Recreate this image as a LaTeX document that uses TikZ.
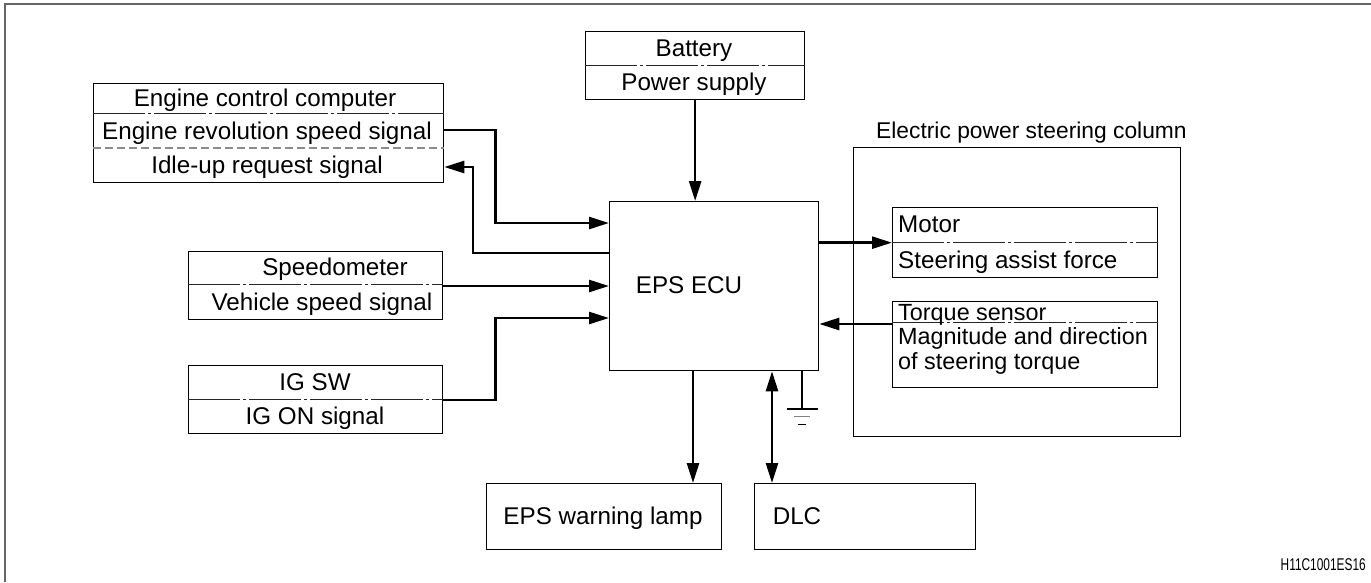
\documentclass[tikz,border=0pt]{standalone}
\usepackage{fontspec}
\setmainfont{Liberation Sans}
\usetikzlibrary{arrows.meta,calc}
\begin{document}
\begin{tikzpicture}[x=1pt,y=-1pt,
  every node/.style={font=\fontsize{24.2}{27}\selectfont, inner sep=0pt},
  blk/.style={draw, line width=1.3pt, inner sep=0pt, anchor=north west, rectangle},
  divline/.style={line width=1pt, draw=black!85, dash pattern=on 52pt off 3pt on 3pt off 3pt},
  dashline/.style={line width=1.2pt, draw=black!45, dash pattern=on 8pt off 4pt},
  sig/.style={line width=2.6pt, -{Triangle[length=20pt,width=12pt]}},
  bisig/.style={line width=2.6pt, {Triangle[length=20pt,width=12pt]}-{Triangle[length=20pt,width=12pt]}},
  lbl/.style={anchor=base},
  lbll/.style={anchor=base west},
  tqfont/.style={font=\fontsize{23.4}{26}\selectfont}]
\useasboundingbox (0,0) rectangle (1371,582);
% frame
\draw[black!60, line width=2pt] (1371,4) -- (5,4) -- (5,582);

% boxes
\node[blk, minimum width=219pt, minimum height=68pt] (bat) at (585,31) {};
\node[blk, minimum width=350pt, minimum height=99pt] (eng) at (93,83) {};
\node[blk, minimum width=254pt, minimum height=68pt] (spd) at (188,251) {};
\node[blk, minimum width=254pt, minimum height=68pt] (igsw) at (188,365) {};
\node[blk, minimum width=209pt, minimum height=169pt] (ecu) at (609,201) {};
\node[blk, minimum width=327pt, minimum height=289pt] (col) at (853,147) {};
\node[blk, minimum width=265pt, minimum height=70pt] (mot) at (892,207) {};
\node[blk, minimum width=265pt, minimum height=86pt] (tqs) at (892,301) {};
\node[blk, minimum width=235pt, minimum height=66pt] (lamp) at (486,483) {};
\node[blk, minimum width=221pt, minimum height=66pt] (dlc) at (754,483) {};

% dividers
\draw[divline] ([yshift=-34pt]bat.north west) -- ([yshift=-34pt]bat.north east);
\draw[divline] ([yshift=-30pt]eng.north west) -- ([yshift=-30pt]eng.north east);
\draw[dashline] ([yshift=-65pt]eng.north west) -- ([yshift=-65pt]eng.north east);
\draw[divline] ([yshift=-33pt]spd.north west) -- ([yshift=-33pt]spd.north east);
\draw[divline] ([yshift=-34pt]igsw.north west) -- ([yshift=-34pt]igsw.north east);
\draw[divline] ([yshift=-35pt]mot.north west) -- ([yshift=-35pt]mot.north east);
\draw[divline] ([yshift=-21pt]tqs.north west) -- ([yshift=-21pt]tqs.north east);

% texts
\node[lbl] (tbat1) at (694,56) {Battery};
\node[lbl] (tbat2) at (694,90) {Power supply};
\node[lbl] (teng1) at (265,106) {Engine control computer};
\node[lbl] (teng2) at (267,139) {Engine revolution speed signal};
\node[lbl] (teng3) at (267,173) {Idle-up request signal};
\node[lbl] (tspd1) at (335,275) {Speedometer};
\node[lbl] (tspd2) at (322,310) {Vehicle speed signal};
\node[lbl] (tig1) at (315,390) {IG SW};
\node[lbl] (tig2) at (315,424) {IG ON signal};
\node[lbl] (tecu) at (689,293) {EPS ECU};
\node[lbll, font=\fontsize{22.8}{26}\selectfont] (tcol) at (876,138) {Electric power steering column};
\node[lbll] (tmot1) at (898,232) {Motor};
\node[lbll] (tmot2) at (898,268) {Steering assist force};
\node[lbll, tqfont] (ttq1) at (898,320) {Torque sensor};
\node[lbll, tqfont] (ttq2) at (898,344) {Magnitude and direction};
\node[lbll, tqfont] (ttq3) at (898,369) {of steering torque};
\node[lbl] (tlamp) at (603,524) {EPS warning lamp};
\node[lbl] (tdlc) at (797,524) {DLC};
\node[anchor=base east] (code) at (1366,570) {\scalebox{0.7}[1]{\fontsize{17}{19}\selectfont H11C1001ES16}};

% connectors
\draw[sig] (bat.south) -- (bat.south |- ecu.north);
\draw[sig] ([yshift=-47pt]eng.north east) -- ++(51,0) |- ([yshift=-22pt]ecu.north west);
\draw[sig] ([yshift=-52pt]ecu.north west) -- ++(-136,0) |- ([yshift=-84pt]eng.north east);
\draw[sig] ([yshift=-35pt]spd.north east) -- ([yshift=-85pt]ecu.north west);
\draw[sig] ([yshift=-35pt]igsw.north east) -- ++(52,0) |- ([yshift=-117pt]ecu.north west);
\draw[sig] (ecu.east |- mot.west) -- (mot.west);
\coordinate (tqa) at ([yshift=-23pt]tqs.north west);
\draw[sig] (tqa) -- (ecu.east |- tqa);
\coordinate (lmpa) at ([xshift=84pt]ecu.south west);
\draw[sig] (lmpa) -- (lmpa |- lamp.north);
\coordinate (dlca) at ([xshift=163pt]ecu.south west);
\draw[bisig] (dlca) -- (dlca |- dlc.north);
% ground
\coordinate (gnd) at ([xshift=193pt]ecu.south west);
\draw[line width=2pt] (gnd) -- ++(0,38) coordinate (gb);
\draw[line width=2pt] ([xshift=-15pt]gb) -- ([xshift=16pt]gb);
\draw[line width=1.5pt, black!50] ([xshift=-8pt,yshift=-7pt]gb) -- ([xshift=8pt,yshift=-7pt]gb);
\draw[line width=1.5pt] ([xshift=-4pt,yshift=-15pt]gb) -- ([xshift=4pt,yshift=-15pt]gb);
\end{tikzpicture}
\end{document}
